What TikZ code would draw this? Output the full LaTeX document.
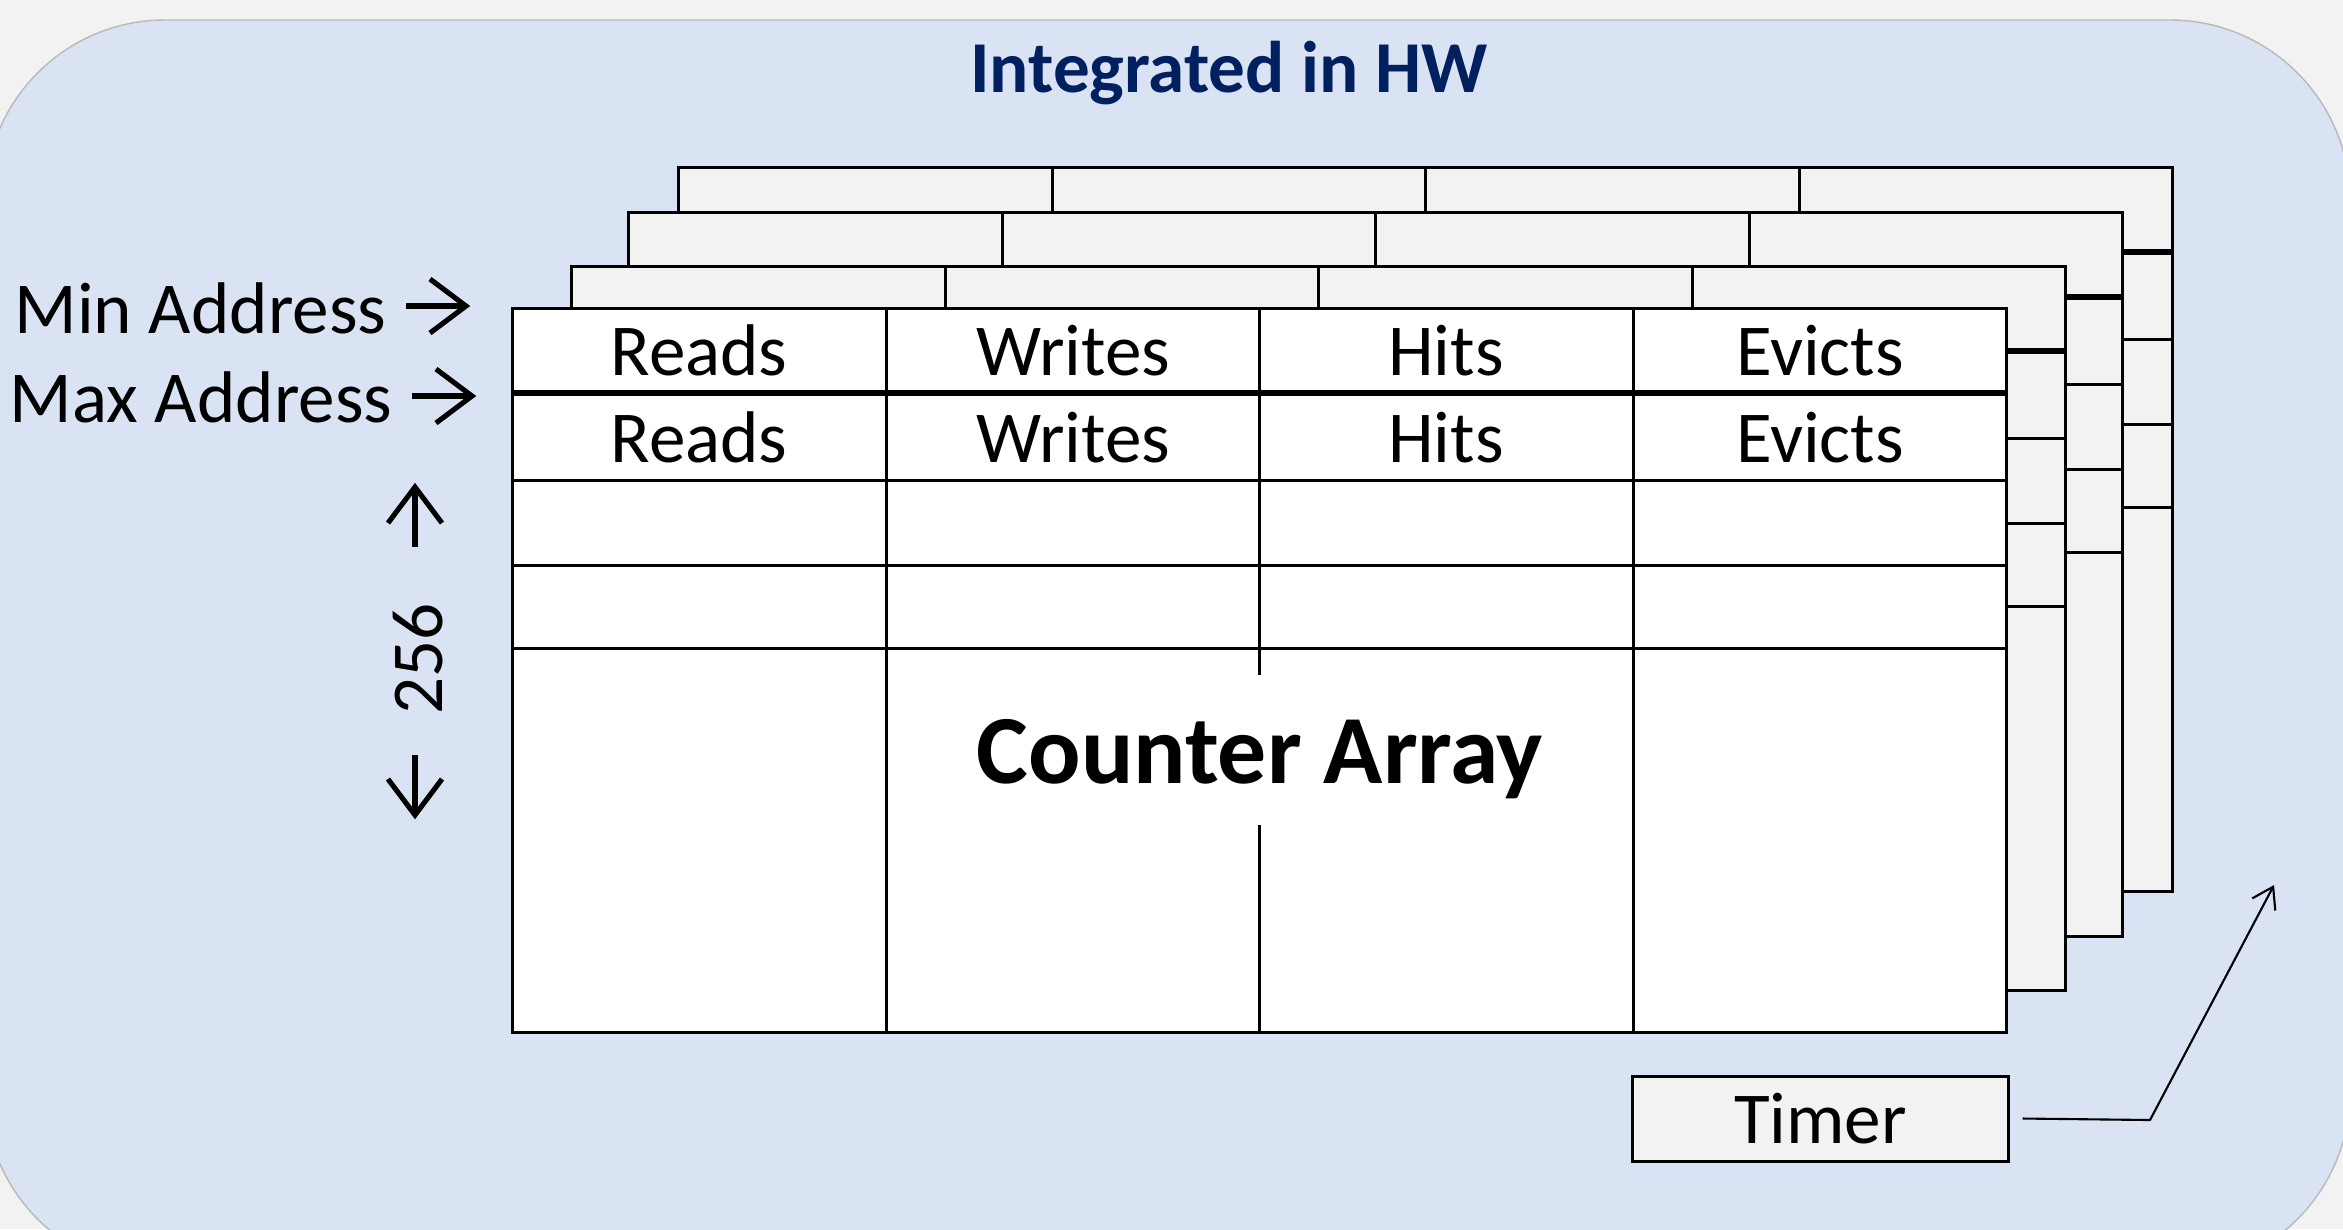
\documentclass[tikz,border=0pt]{standalone}
\usepackage{fontspec}
\setmainfont{Carlito}
\usetikzlibrary{arrows.meta}
\definecolor{bgout}{HTML}{F2F2F2}
\definecolor{panel}{HTML}{DAE3F3}
\definecolor{layerfill}{HTML}{F2F2F2}
\definecolor{titleblue}{HTML}{002060}
\begin{document}
\begin{tikzpicture}[x=0.01cm,y=-0.01cm,
  txt/.style={font=\fontsize{20.8}{25}\selectfont, inner sep=0pt, anchor=base},
  gridline/.style={line width=0.85pt, line join=miter},
  heavyline/.style={line width=1.8pt},
  glyph/.style={line width=1.45pt, line join=miter, miter limit=4},
  conn/.style={line width=0.6pt, -{Straight Barb[length=0.2cm,width=0.26cm]}},
  glyphar/.pic={\draw[glyph] (0,0) -- (58,0); \draw[glyph] (24,-27) -- (60,0) -- (24,27);}
]
% background
\fill[bgout] (0,0) rectangle (2343,1229);
\useasboundingbox (0,0) rectangle (2343,1229);
\begin{scope}
  \clip (0,0) rectangle (2343,1229);
  \draw[fill=panel, draw=gray!55, line width=0.4pt, rounded corners=1.8cm] (-15,20) rectangle (2350,1272);
\end{scope}
% stacked layers (back to front)
\foreach \dx/\dy/\fc in {166/-141/layerfill, 116/-96/layerfill, 59/-42/layerfill, 0/0/white}{
  \begin{scope}[shift={(\dx,\dy)}]
    \filldraw[fill=\fc, gridline] (512.5,308) rectangle (2006.5,1032);
    \foreach \x in {886,1259.5,1633} \draw[gridline] (\x,308) -- (\x,1032);
    \foreach \y in {480,565,648} \draw[gridline] (512.5,\y) -- (2006.5,\y);
    \draw[heavyline] (512.5,393) -- (2006.5,393);
  \end{scope}
}
% cell texts
\foreach \cx/\lab/\nm in {699/Reads/rd, 1073/Writes/wr, 1446/Hits/ht, 1820/Evicts/ev}{
  \node[txt] (\nm a) at (\cx,375) {\lab};
  \node[txt] (\nm b) at (\cx,462) {\lab};
}
% counter array label
\node[font=\bfseries\fontsize{27.8}{33}\selectfont, fill=white, inner ysep=0pt, inner xsep=3pt,
      text height=1.08cm, text depth=0.42cm, anchor=base] (carray) at (1260,783) {Counter Array};
% title
\node[txt, font=\bfseries\fontsize{20.8}{25}\selectfont, text=titleblue] (title) at (1229,92) {Integrated in HW};
% address labels with arrows
\node[txt, anchor=base east] (minaddr) at (387,333) {Min Address};
\node[txt, anchor=base east] (maxaddr) at (393,422) {Max Address};
\pic at (406,306) {glyphar};
\pic at (412,396) {glyphar};
% 256 vertical
\node[txt, rotate=90, anchor=base] (count) at (442,659) {256};
\pic[rotate=90] at (415,547) {glyphar};
\pic[rotate=-90] at (415,755) {glyphar};
% timer
\node[draw, fill=layerfill, gridline, minimum width=3.75cm, minimum height=0.85cm, inner sep=0pt,
      font=\fontsize{20.8}{25}\selectfont] (timer) at (1820.5,1118.5) {Timer};
\coordinate (bend) at (2150,1120);
\coordinate (tip) at (2274,885);
\draw[conn] ([xshift=0.13cm]timer.east) -- (bend) -- (tip);
\end{tikzpicture}
\end{document}
